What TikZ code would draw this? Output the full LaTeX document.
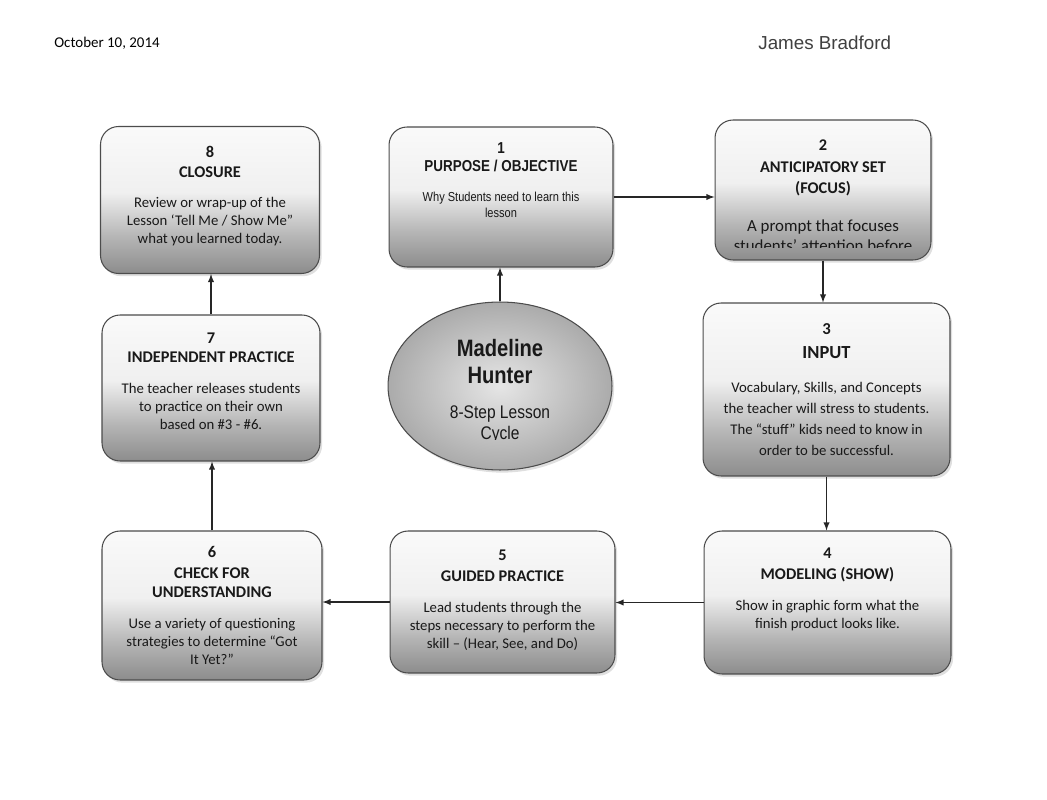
\documentclass[tikz,border=0pt]{standalone}
\usepackage{fontspec}
\setmainfont{Carlito}
\newfontfamily\arialfont{Liberation Sans}
\newfontfamily\narrowfont[FakeStretch=0.85]{Liberation Sans}
\usetikzlibrary{shapes.geometric,shadows}

\pgfdeclareverticalshading{stepshade}{100bp}{color(0bp)=(black!45); color(25bp)=(black!45); color(37.5bp)=(black!29); color(50bp)=(black!10); color(52.5bp)=(black!6); color(75bp)=(black!2); color(100bp)=(black!2)}
\newcommand{\stephead}[1]{{\fontsize{9.3}{11}\selectfont\bfseries #1}}

\begin{document}
\begin{tikzpicture}
[
	x=0.02cm, y=-0.02cm,
	stepbox/.style={rectangle,rounded corners=0.36cm,draw=black!70,line width=0.6pt,shade,shading=stepshade,drop shadow={opacity=0.25,shadow xshift=1.2pt,shadow yshift=-1.5pt},text=black!90,align=center,font=\fontsize{8.4}{10.2}\selectfont,inner sep=0pt},
	hub/.style={ellipse,draw=black!70,line width=0.6pt,inner color=black!10,outer color=black!33,drop shadow={opacity=0.25,shadow xshift=1.2pt,shadow yshift=-1.5pt},inner sep=0pt},
	link/.style={line width=0.6pt,draw=black!85,-latex}
]
\useasboundingbox (0,0) rectangle (1047,800);

% header
\node[font=\fontsize{8.5}{10}\selectfont,anchor=west,inner sep=0pt] (date) at (54,43) {October 10, 2014};
\node[font=\arialfont\fontsize{10.7}{12}\selectfont,text=black!75,anchor=west,inner sep=0pt] (author) at (758,43) {James Bradford};

% top row
\node[stepbox,minimum width=4.38cm,minimum height=2.94cm] (box8) at (210,200)
	{\stephead{8}\\[0.8pt] \stephead{CLOSURE}\\[7pt] Review or wrap-up of the\\ Lesson ‘Tell Me / Show Me”\\ what you learned today.\\[-4.5pt]};
\node[stepbox,minimum width=4.48cm,minimum height=2.8cm,font=\narrowfont\fontsize{7.4}{9.1}\selectfont] (box1) at (501,197)
	{{\fontsize{9}{10}\selectfont\bfseries 1}\\[1.1pt] {\fontsize{9}{10}\selectfont\bfseries PURPOSE / OBJECTIVE}\\[7.9pt]
	 Why Students need to learn this\\ lesson\\[10pt]};
\node[stepbox,minimum width=4.32cm,minimum height=2.8cm,
	path picture={
		\clip ([yshift=0.24cm]path picture bounding box.south west) rectangle (path picture bounding box.north east);
		\node[anchor=north,inner sep=0pt,align=center,text=black!90,font=\fontsize{9.6}{11.4}\selectfont] (box2text)
			at ([yshift=-0.1cm]path picture bounding box.north)
			{\stephead{2}\\[1.1pt] \stephead{ANTICIPATORY SET}\\[1.1pt] \stephead{(FOCUS)}\\[10pt] A prompt that focuses\\ students’ attention before};
	}] (box2) at (823,190) {};

% middle row
\node[stepbox,minimum width=4.36cm,minimum height=2.92cm] (box7) at (211,388)
	{\stephead{7}\\[0.6pt] \stephead{INDEPENDENT PRACTICE}\\[7.6pt] The teacher releases students\\ to practice on their own\\ based on \#3 - \#6.\\[-2.2pt]};
\node[hub,minimum width=4.48cm,minimum height=3.36cm,
	path picture={
		\clip (path picture bounding box.north west) rectangle ([yshift=0.6cm]path picture bounding box.south east);
		\node[inner sep=0pt,align=center,text=black!90,font=\narrowfont\fontsize{10.4}{12}\selectfont] (hubtext)
			at ([yshift=-0.1cm]path picture bounding box.center)
			{{\fontsize{13.5}{15}\selectfont\bfseries Madeline}\\[3.4pt] {\fontsize{13.5}{15}\selectfont\bfseries Hunter}\\[8pt]
			 8-Step Lesson\\ Cycle};
	}] (hub) at (500,386) {};
\node[stepbox,minimum width=4.94cm,minimum height=3.46cm,font=\fontsize{8.4}{11.8}\selectfont] (box3) at (826.5,389.5)
	{{\fontsize{9.5}{11}\selectfont\bfseries 3}\\[1.9pt] {\fontsize{10.5}{12}\selectfont\bfseries INPUT}\\[7.5pt] Vocabulary, Skills, and Concepts\\ the teacher will stress to students.\\ The “stuff” kids need to know in\\ order to be successful.};

% bottom row
\node[stepbox,minimum width=4.4cm,minimum height=2.98cm] (box6) at (212,605.5)
	{\stephead{6}\\[1.5pt] \stephead{CHECK FOR}\\[0.5pt] \stephead{UNDERSTANDING}\\[7.6pt] Use a variety of questioning\\ strategies to determine “Got\\ It Yet?”};
\node[stepbox,minimum width=4.5cm,minimum height=2.84cm] (box5) at (502.5,602)
	{\stephead{5}\\[1.5pt] \stephead{GUIDED PRACTICE}\\[7.6pt] Lead students through the\\ steps necessary to perform the\\ skill -- (Hear, See, and Do)\\[-6.8pt]};
\node[stepbox,minimum width=4.94cm,minimum height=2.86cm] (box4) at (827.5,602.5)
	{\stephead{4}\\[1.5pt] \stephead{MODELING (SHOW)}\\[7.6pt] Show in graphic form what the\\ finish product looks like.\\[6pt]};

% connectors
\draw[link] (box1.east) -- (box1.east -| box2.west);
\draw[link] (box2.south) -- (box2.south |- box3.north);
\draw[link] (box3.south) -- (box3.south |- box4.north);
\draw[link] (box4.west) -- (box4.west -| box5.east);
\draw[link] (box5.west) -- (box5.west -| box6.east);
\draw[link] (box6.north) -- (box6.north |- box7.south);
\draw[link] (box7.north) -- (box7.north |- box8.south);
\draw[link] (hub.north) -- (hub.north |- box1.south);

\end{tikzpicture}
\end{document}
